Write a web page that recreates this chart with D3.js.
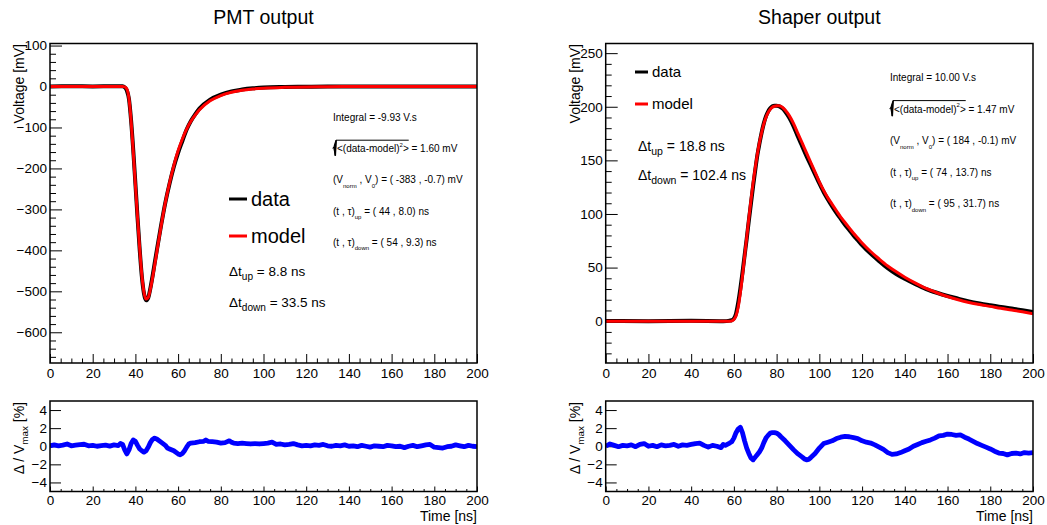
<!DOCTYPE html>
<html><head><meta charset="utf-8">
<script src="https://cdn.jsdelivr.net/npm/d3@7"></script>
<style>body{margin:0;background:#fff}svg{font-family:"Liberation Sans",Arial,Helvetica,sans-serif}</style>
</head><body><svg id="c" width="1047" height="525"></svg>
<script>
// ---------------- data ----------------
const timeTicks = [0,20,40,60,80,100,120,140,160,180,200];
const pmtYTicks = [100,0,-100,-200,-300,-400,-500,-600];
const shaperYTicks = [250,200,150,100,50,0];
const residualTicks = [4,2,0,-2,-4];

const pmtTime  = [0,10,20,30,34,35,36,37,38,39,40,41,42,43,44,45,46,47,48,49,50,52,54,56,58,60,62,64,66,68,70,75,80,85,90,95,100,110,120,130,150,175,200];
const pmtModel = [0,0,0,0,0,-1,-6,-30,-85,-160,-240,-320,-395,-460,-502,-519,-515,-495,-468,-437,-405,-342,-284,-235,-193,-157,-128,-104,-85,-70,-57,-35,-22,-14,-9,-6,-4,-2,-1,-0.5,0,0,0];
const pmtData  = [0.3,0.5,0.3,0.5,0.5,-2,-10,-31,-84,-156,-237,-320,-397,-463,-505,-522,-516,-493,-464,-432,-401,-340,-284,-237,-196,-162,-133,-105,-84,-68,-54,-32,-20,-12,-7.5,-4.5,-2.5,-1.2,-0.5,0,0,0.3,0];

const shaperTime  = [0,20,40,55,58,59,60,61,62,63,64,65,66,67,68,69,70,71,72,73,74,75,76,77,78,79,80,81,82,83,84,86,88,90,92,94,96,98,100,102,104,106,108,110,112,114,116,118,120,124,128,132,136,140,145,150,155,160,165,170,175,180,185,190,195,200];
const shaperModel = [0,0,0,0,0,0.3,1.5,5,13,26,42,60,78,96,113,129,143,156,167,176,184,190,194.5,197.5,199.5,200.5,201,201,200.5,199,197,191.5,184,175,166,157,148,139,130,122,115,109,103,97,92,87,82,77.5,73,65,58,51.5,46,41,35.5,30.5,26.5,23,20,17.5,15.5,13.8,12,10.5,8.8,7];
const shaperData  = [0.2,0,0.3,0,0.5,1,2.5,7,17,30,45,61,77,94,110,126,141,155,166,176,184.5,191,195.5,198.5,200.5,201,201,200.5,199.5,198,195.5,189.5,181.5,172,163,154,145.5,137,128.5,120.5,113.5,107,101,95.5,90,85,80,75.5,71,63,56,49.5,44,39.5,34.5,30,26.5,23.5,21,18.5,16.5,14.8,13.2,11.8,10.2,8.5];

const pmtResTime = [0,2,4,6,8,10,12,14,16,18,20,22,24,26,28,30,32,33,34,35,36,37,38,39,40,41,42,43,44,45,46,47,48,49,50,52,54,55,56,58,60,61,62,63,64,65,66,68,70,72,73,74,76,78,80,82,84,85,86,88,90,92,94,96,98,100,102,104,106,108,110,112,114,116,118,120,122,124,126,128,130,132,134,136,138,140,142,144,146,148,150,152,154,156,158,160,162,164,166,168,170,172,174,176,178,180,182,184,186,188,190,192,194,196,198,200];
const pmtResidual = [0.05,0.15,0.05,0.12,0.25,0.05,0.12,0.18,0.22,0.05,0.1,0.0,0.06,0.12,0.02,0.15,0.08,0.3,0.2,-0.4,-0.85,-0.4,0.3,0.7,0.55,0.1,-0.3,-0.5,-0.65,-0.5,-0.1,0.4,0.75,0.9,0.8,0.45,0.1,-0.2,-0.3,-0.5,-0.85,-0.95,-0.8,-0.5,-0.1,0.25,0.35,0.4,0.5,0.55,0.7,0.55,0.5,0.45,0.35,0.4,0.6,0.45,0.35,0.3,0.35,0.3,0.25,0.3,0.25,0.3,0.35,0.45,0.2,0.25,0.15,0.2,0.3,0.15,0.05,0.1,0.05,0.15,0.1,0.2,0.05,0.0,0.1,0.05,0.15,0.0,0.05,-0.05,0.1,0.0,-0.1,0.05,0.0,-0.05,0.1,0.05,-0.05,0.0,-0.15,0.0,0.1,-0.05,0.05,0.15,0.2,-0.1,-0.15,-0.2,-0.05,0.0,0.15,0.05,-0.05,0.1,0.0,-0.05];

const shaperResTime = [0,2,4,6,8,10,12,14,16,18,20,22,24,26,28,30,32,34,36,38,40,42,44,46,48,50,52,54,55,56,58,59,60,61,62,63,64,65,66,67,68,69,70,71,72,73,74,75,76,77,78,79,80,81,82,84,86,88,90,92,93,94,95,96,98,100,102,104,106,108,110,112,114,116,118,120,122,124,126,128,130,132,134,136,138,140,142,144,146,148,150,152,154,156,158,160,162,164,166,168,170,172,174,176,178,180,182,184,186,188,190,192,194,196,198,200];
const shaperResidual = [0.0,0.25,0.1,-0.05,0.1,0.05,0.15,-0.05,0.2,0.3,0.0,0.1,-0.05,0.15,0.05,0.1,0.2,0.0,0.15,0.1,0.2,0.3,0.35,0.1,-0.1,0.1,0.0,-0.15,0.2,0.1,0.35,0.5,0.9,1.5,1.9,2.1,1.5,0.6,-0.2,-0.8,-1.3,-1.5,-1.2,-0.9,-0.6,-0.2,0.4,0.9,1.2,1.45,1.5,1.5,1.45,1.3,1.05,0.6,0.1,-0.4,-0.85,-1.2,-1.4,-1.5,-1.45,-1.25,-0.8,-0.2,0.3,0.45,0.6,0.85,1.0,1.1,1.05,0.95,0.85,0.6,0.45,0.35,0.15,-0.1,-0.35,-0.7,-0.9,-0.85,-0.7,-0.5,-0.3,0.0,0.2,0.4,0.55,0.7,0.9,1.15,1.2,1.35,1.3,1.2,1.25,1.0,0.8,0.55,0.3,0.1,-0.1,-0.3,-0.55,-0.75,-0.8,-0.95,-0.8,-0.75,-0.85,-0.7,-0.75,-0.7];

// ---------------- drawing ----------------
const svg = d3.select("#c");
svg.append("rect").attr("width",1047).attr("height",525).attr("fill","#fff");
const TICK_FS = 13.5, AXT_FS = 14;
const minus = d => d < 0 ? "\u2212" + Math.abs(d) : String(d);

function rich(g, x, y, parts, size, anchor) {
  const t = g.append("text").attr("x", x).attr("y", y).attr("font-size", size)
    .attr("text-anchor", anchor || "start").attr("fill", "#000");
  let shift = 0;
  const spans = [];
  parts.forEach(([s, k, sc, off]) => {
    const target = k === 1 ? size * (off || 0.35) : k === 2 ? -size * (off || 0.45) : 0;
    const sp = t.append("tspan").text(s).attr("dy", target - shift);
    if (k) sp.attr("font-size", size * (sc || 0.7));
    shift = target;
    spans.push(sp);
  });
  return {t, spans};
}

function panel(cfg) {
  const g = svg.append("g");
  const x = d3.scaleLinear().domain([0, 200]).range([cfg.x0, cfg.x1]);
  const y = d3.scaleLinear().domain(cfg.ydom).range([cfg.y1, cfg.y0]);
  const id = "clip" + Math.round(cfg.x0) + "_" + Math.round(cfg.y0);
  svg.append("clipPath").attr("id", id).append("rect")
    .attr("x", cfg.x0).attr("y", cfg.y0).attr("width", cfg.x1 - cfg.x0).attr("height", cfg.y1 - cfg.y0);
  const xMinor = d3.range(0, 201, 5).filter(v => v % 20 !== 0);
  g.append("g").attr("transform", `translate(0,${cfg.y1})`)
    .call(d3.axisBottom(x).tickValues(xMinor).tickFormat("").tickSize(-cfg.xMinorLen))
    .call(a => a.select(".domain").remove());
  g.append("g").attr("transform", `translate(0,${cfg.y1})`)
    .call(d3.axisBottom(x).tickValues(timeTicks).tickFormat(d => d).tickSize(-cfg.xMajorLen).tickPadding(cfg.xPad))
    .call(a => a.select(".domain").remove())
    .call(a => a.selectAll("text").attr("font-size", TICK_FS).attr("font-family", null).attr("fill", "#000"));
  if (cfg.yMinor) {
    g.append("g").attr("transform", `translate(${cfg.x0},0)`)
      .call(d3.axisLeft(y).tickValues(cfg.yMinor).tickFormat("").tickSize(-cfg.yMinorLen))
      .call(a => a.select(".domain").remove());
  }
  g.append("g").attr("transform", `translate(${cfg.x0},0)`)
    .call(d3.axisLeft(y).tickValues(cfg.yTicks).tickFormat(minus).tickSize(-cfg.yMajorLen).tickPadding(3))
    .call(a => a.select(".domain").remove())
    .call(a => a.selectAll("text").attr("font-size", TICK_FS).attr("font-family", null).attr("fill", "#000"));
  g.selectAll(".tick line").attr("stroke", "#000").attr("stroke-width", 1);
  const plot = g.append("g").attr("clip-path", `url(#${id})`);
  cfg.series.forEach(s => {
    const line = d3.line().x((d, i) => x(s.t[i])).y(d => y(d)).curve(s.curve || d3.curveMonotoneX);
    plot.append("path").attr("d", line(s.v)).attr("fill", "none")
      .attr("stroke", s.color).attr("stroke-width", s.w).attr("stroke-linejoin", "round");
  });
  g.append("rect").attr("x", cfg.x0).attr("y", cfg.y0).attr("width", cfg.x1 - cfg.x0)
    .attr("height", cfg.y1 - cfg.y0).attr("fill", "none").attr("stroke", "#000").attr("stroke-width", 1.5);
  return {g, x, y};
}

const cols = [
  {x0: 50, x1: 477, title: "PMT output", ytitleX: 22,
   ydom: [-675, 105], yTicks: pmtYTicks, yMinor: d3.range(-660, 101, 20).filter(v => v % 100 !== 0),
   t: pmtTime, model: pmtModel, data: pmtData, rt: pmtResTime, res: pmtResidual},
  {x0: 605.7, x1: 1033, title: "Shaper output", ytitleX: 578,
   ydom: [-39, 259], yTicks: shaperYTicks, yMinor: d3.range(-30, 259, 10).filter(v => v % 50 !== 0),
   t: shaperTime, model: shaperModel, data: shaperData, rt: shaperResTime, res: shaperResidual}
];

cols.forEach(c => {
  panel({x0: c.x0, x1: c.x1, y0: 43.5, y1: 363, ydom: c.ydom, yTicks: c.yTicks, yMinor: c.yMinor,
    xMajorLen: 9, xMinorLen: 4.5, yMajorLen: 12, yMinorLen: 6, xPad: 5,
    series: [{t: c.t, v: c.data, color: "#000", w: 4}, {t: c.t, v: c.model, color: "#ff0000", w: 3}]});
  panel({x0: c.x0, x1: c.x1, y0: 401, y1: 491.5, ydom: [-5, 5], yTicks: residualTicks, yMinor: null,
    xMajorLen: 5, xMinorLen: 2.5, yMajorLen: 11, yMinorLen: 5, xPad: 4,
    series: [{t: c.rt, v: c.res, color: "#0000ff", w: 4.8, curve: d3.curveLinear}]});
  svg.append("text").attr("x", (c.x0 + c.x1) / 2).attr("y", 24).attr("text-anchor", "middle")
    .attr("font-size", 19.5).text(c.title);
  svg.append("text").attr("transform", `translate(${c.ytitleX + 2},44) rotate(-90)`)
    .attr("text-anchor", "end").attr("font-size", AXT_FS).text("Voltage [mV]");
  const rt = rich(svg, 0, 0, [["\u0394 / V", 0], ["max", 1, 0.7, 0.3], [" [%]", 0]], AXT_FS, "end");
  rt.t.attr("transform", `translate(${c.ytitleX + 2},402) rotate(-90)`);
  svg.append("text").attr("x", c.x1).attr("y", 521).attr("text-anchor", "end")
    .attr("font-size", AXT_FS).text("Time [ns]");
});

// ---------------- annotations ----------------
function legend(x, y, color, label, fs, len) {
  svg.append("line").attr("x1", x).attr("x2", x + len).attr("y1", y).attr("y2", y)
    .attr("stroke", color).attr("stroke-width", 3);
  svg.append("text").attr("x", x + len + 4).attr("y", y + fs * 0.36).attr("font-size", fs).text(label);
}
legend(229, 199, "#000", "data", 20, 18);
legend(229, 236, "#ff0000", "model", 20, 18);
rich(svg, 229, 276, [["\u0394t", 0], ["up", 1, 0.75, 0.3], [" = 8.8 ns", 0]], 13.5);
rich(svg, 229, 307, [["\u0394t", 0], ["down", 1, 0.75, 0.3], [" = 33.5 ns", 0]], 13.5);

legend(635, 72, "#000", "data", 15, 13);
legend(635, 104, "#ff0000", "model", 15, 13);
rich(svg, 638, 151, [["\u0394t", 0], ["up", 1, 0.75, 0.3], [" = 18.8 ns", 0]], 14);
rich(svg, 638, 180, [["\u0394t", 0], ["down", 1, 0.75, 0.3], [" = 102.4 ns", 0]], 14);

function fitBox(x, y0, dy, integral, rms, vnorm, v0, tup, tauup, tdown, taudown) {
  const fs = 10;
  svg.append("text").attr("x", x).attr("y", y0).attr("font-size", fs).text(`Integral = ${integral} V.s`);
  const yb = y0 + dy;
  const r = rich(svg, x + 4, yb, [["<(data-model)", 0], ["2", 2, 0.6, 0.55], [">", 0], [` = ${rms} mV`, 0]], fs);
  const endX = r.spans[3].node().getStartPositionOfChar(0).x;
  svg.append("path").attr("d", `M${x - 0.5},${yb - 4} L${x + 1.2},${yb - 5} L${x + 2.2},${yb + 3.5} L${x + 3},${yb - 12} L${endX},${yb - 12}`)
    .attr("fill", "none").attr("stroke", "#000").attr("stroke-width", 1);
  svg.append("path").attr("d", `M${x + 0.9},${yb - 4.5} L${x + 2.4},${yb + 3.5} L${x + 3.2},${yb - 12} L${x + 1.8},${yb - 8} Z`)
    .attr("fill", "#000").attr("stroke", "#000").attr("stroke-width", 1.3);
  rich(svg, x, y0 + 2 * dy, [["(V", 0], ["norm", 1, 0.6, 0.45], [" , V", 0], ["0", 1, 0.6, 0.45], [`) = ( ${vnorm} , ${v0}) mV`, 0]], fs);
  rich(svg, x, y0 + 3 * dy, [["(t , \u03c4)", 0], ["up", 1, 0.6, 0.45], [` = ( ${tup} , ${tauup}) ns`, 0]], fs);
  rich(svg, x, y0 + 4 * dy, [["(t , \u03c4)", 0], ["down", 1, 0.6, 0.45], [` = ( ${tdown} , ${taudown}) ns`, 0]], fs);
}
fitBox(333, 121, 31.2, "-9.93", "1.60", "-383", "-0.7", "44", "8.0", "54", "9.3");
fitBox(890, 81, 31.6, "10.00", "1.47", "184", "-0.1", "74", "13.7", "95", "31.7");
</script></body></html>
